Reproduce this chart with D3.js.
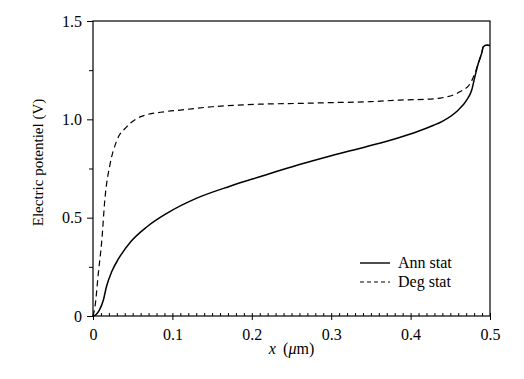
<!DOCTYPE html>
<html><head><meta charset="utf-8">
<script src="https://cdn.jsdelivr.net/npm/d3@7/dist/d3.min.js"></script>
<style>body{margin:0;background:#fff}svg{display:block}svg text{font-family:"Liberation Serif","Times New Roman","DejaVu Serif",serif !important;fill:#000}</style>
</head><body><svg id="c" width="524" height="379"></svg>
<script>
const annX = [0, 0.004, 0.008, 0.013, 0.017, 0.0235, 0.032, 0.048, 0.068, 0.093, 0.13, 0.1725, 0.21, 0.26, 0.30, 0.345, 0.386, 0.408, 0.429, 0.44, 0.458, 0.4706, 0.477, 0.481, 0.4853, 0.4895, 0.4916, 0.4958, 0.5];
const annY = [0, 0.008, 0.03, 0.08, 0.15, 0.225, 0.29, 0.38, 0.454, 0.522, 0.598, 0.66, 0.708, 0.77, 0.815, 0.862, 0.908, 0.937, 0.97, 0.99, 1.04, 1.098, 1.149, 1.217, 1.285, 1.336, 1.369, 1.378, 1.375];
const degX = [0, 0.0025, 0.0067, 0.011, 0.0151, 0.0214, 0.0298, 0.0424, 0.0612, 0.0907, 0.11, 0.15, 0.21, 0.26, 0.30, 0.35, 0.3866, 0.4286, 0.437, 0.462, 0.4748, 0.481, 0.4853, 0.4895, 0.4916, 0.4958, 0.5];
const degY = [0, 0.047, 0.217, 0.38, 0.6, 0.77, 0.89, 0.962, 1.015, 1.039, 1.047, 1.064, 1.077, 1.081, 1.085, 1.09, 1.098, 1.104, 1.108, 1.14, 1.18, 1.234, 1.285, 1.336, 1.369, 1.378, 1.375];
const xTicks = [0, 0.1, 0.2, 0.3, 0.4, 0.5];
const xTickLabels = ["0", "0.1", "0.2", "0.3", "0.4", "0.5"];
const yTicks = [0, 0.5, 1.0, 1.5];
const yTickLabels = ["0", "0.5", "1.0", "1.5"];
const seriesNames = ["Ann stat", "Deg stat"];

const svg = d3.select("#c");
const L = 93, R = 490, T = 21, B = 316;
const x = d3.scaleLinear().domain([0, 0.5]).range([L, R]);
const y = d3.scaleLinear().domain([0, 1.5]).range([B, T]);
const FONT = "'Liberation Serif', 'Times New Roman', serif";

// frame
svg.append("rect").attr("x", L).attr("y", T).attr("width", R - L).attr("height", B - T)
  .attr("fill", "none").attr("stroke", "#000").attr("stroke-width", 1.2);

// x axis
const xMinor = d3.range(0, 51).map(i => i / 100);
const gx = svg.append("g").attr("transform", `translate(0,${B})`);
gx.call(d3.axisBottom(x).tickValues(xMinor).tickSize(-3).tickFormat(""))
  .call(g => g.select(".domain").remove());
gx.append("g").call(d3.axisBottom(x).tickValues(xTicks).tickSize(4).tickPadding(9)
  .tickFormat((d, i) => xTickLabels[i]))
  .call(g => g.select(".domain").remove());
gx.selectAll("line").attr("stroke", "#000").attr("stroke-width", 1);

// y axis
const gy = svg.append("g").attr("transform", `translate(${L},0)`);
gy.call(d3.axisLeft(y).tickValues([0.25, 0.75, 1.25]).tickSize(4).tickFormat(""))
  .call(g => g.select(".domain").remove());
gy.append("g").call(d3.axisLeft(y).tickValues(yTicks).tickSize(6).tickPadding(5)
  .tickFormat((d, i) => yTickLabels[i]))
  .call(g => g.select(".domain").remove());
gy.selectAll("line").attr("stroke", "#000").attr("stroke-width", 1);
svg.selectAll("g").attr("font-family", FONT).attr("font-size", 16);
svg.selectAll("g text").attr("fill", "#000").attr("font-size", 16);

// titles
svg.append("text").attr("transform", `translate(43,${(T + B) / 2 - 6}) rotate(-90)`)
  .attr("text-anchor", "middle").attr("font-size", 15).text("Electric potentiel (V)");
const xt = svg.append("text").attr("x", (L + R) / 2).attr("y", 354).attr("text-anchor", "middle").attr("font-size", 16);
xt.append("tspan").attr("font-style", "italic").text("x");
xt.append("tspan").text("\u2009 (");
xt.append("tspan").attr("font-style", "italic").text("\u03bc");
xt.append("tspan").text("m)");

// lines
const line = d3.line().x(d => x(d[0])).y(d => y(d[1])).curve(d3.curveMonotoneX);
const ann = annX.map((v, i) => [v, annY[i]]);
const deg = degX.map((v, i) => [v, degY[i]]);
svg.append("path").datum(deg).attr("d", line).attr("fill", "none").attr("stroke", "#000")
  .attr("stroke-width", 1.2).attr("stroke-dasharray", "6,4");
svg.append("path").datum(ann).attr("d", line).attr("fill", "none").attr("stroke", "#000")
  .attr("stroke-width", 1.5);

// legend
const leg = [[263, null], [282, "4,3"]];
leg.forEach((l, i) => {
  svg.append("line").attr("x1", 360).attr("x2", 390).attr("y1", l[0]).attr("y2", l[0])
    .attr("stroke", "#000").attr("stroke-width", i ? 1.2 : 1.4).attr("stroke-dasharray", l[1]);
  svg.append("text").attr("x", 398).attr("y", l[0] + 5).attr("font-size", 16).text(seriesNames[i]);
});
</script></body></html>
